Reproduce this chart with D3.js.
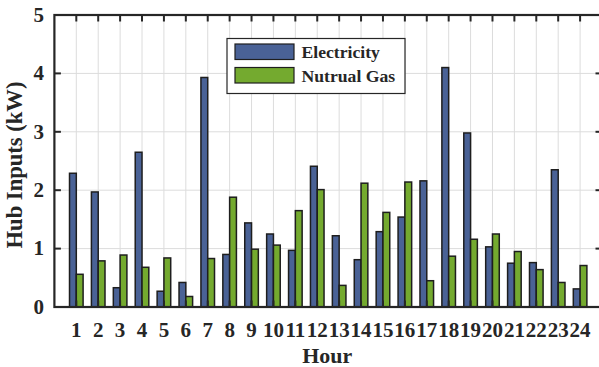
<!DOCTYPE html>
<html>
<head>
<meta charset="utf-8">
<script src="https://cdn.jsdelivr.net/npm/d3@7"></script>
<style>
  html, body { margin: 0; padding: 0; background: #fff; }
  svg { display: block; }
  text { font-family: "Liberation Serif", "Times New Roman", Times, serif; font-weight: bold; fill: #262626; }
</style>
</head>
<body>
<div id="chart"></div>
<script>
const hours = d3.range(1, 25);
const electricity = [2.29, 1.97, 0.33, 2.65, 0.27, 0.42, 3.93, 0.90, 1.44, 1.25, 0.97, 2.41,
                     1.22, 0.81, 1.29, 1.54, 2.16, 4.10, 2.98, 1.03, 0.75, 0.76, 2.35, 0.31];
const naturalGas = [0.56, 0.79, 0.89, 0.68, 0.84, 0.18, 0.83, 1.88, 0.99, 1.06, 1.65, 2.01,
                    0.37, 2.12, 1.62, 2.14, 0.45, 0.87, 1.16, 1.25, 0.95, 0.64, 0.42, 0.71];
const seriesNames = ["Electricity", "Nutrual Gas"];
const seriesColors = ["#4a6296", "#74aa2f"];
const yTicks = [0, 1, 2, 3, 4, 5];

const W = 599, H = 367;
const svg = d3.select("#chart").append("svg").attr("width", W).attr("height", H);

const x = d3.scaleLinear().domain([0, 25]).range([54.4, 602]);
const y = d3.scaleLinear().domain([0, 5]).range([307, 15]);
const bw = 0.31;

// fit a text element's font size so its advance width matches a target width
function fit(sel, size, target) {
  sel.attr("font-size", size);
  const w = sel.node().getComputedTextLength();
  if (w > 0) sel.attr("font-size", size * target / w);
  return sel;
}

// grid
const grid = svg.append("g").attr("stroke", "#dcdcdc").attr("stroke-width", 1);
grid.selectAll("line.v").data(hours).join("line")
  .attr("x1", d => x(d)).attr("x2", d => x(d)).attr("y1", y(5)).attr("y2", y(0));
grid.selectAll("line.h").data(yTicks).join("line")
  .attr("x1", x(0)).attr("x2", x(25)).attr("y1", d => y(d)).attr("y2", d => y(d));

// bars
const series = [electricity, naturalGas];
series.forEach((vals, si) => {
  svg.append("g").selectAll("rect").data(hours).join("rect")
    .attr("x", (d, i) => si === 0 ? x(d - bw) : x(d))
    .attr("width", x(bw) - x(0))
    .attr("y", (d, i) => y(vals[i]))
    .attr("height", (d, i) => y(0) - y(vals[i]))
    .attr("fill", seriesColors[si])
    .attr("stroke", "#1e1e1e")
    .attr("stroke-width", 1.5);
});

// axes
const axisColor = "#262626";
const ax = svg.append("g");
ax.append("rect").attr("x", x(0)).attr("y", y(5)).attr("width", x(25) - x(0)).attr("height", y(0) - y(5))
  .attr("fill", "none").attr("stroke", axisColor).attr("stroke-width", 2.2);
const tl = 6.5;
ax.selectAll("line.xt").data(hours).join("line")
  .attr("x1", d => x(d)).attr("x2", d => x(d)).attr("y1", y(5)).attr("y2", y(5) + tl)
  .attr("stroke", axisColor).attr("stroke-width", 2);
ax.selectAll("line.xb").data(hours).join("line")
  .attr("x1", d => x(d)).attr("x2", d => x(d)).attr("y1", y(0)).attr("y2", y(0) - tl)
  .attr("stroke", axisColor).attr("stroke-width", 2);
ax.selectAll("line.yl").data(yTicks).join("line")
  .attr("x1", x(0)).attr("x2", x(0) + tl).attr("y1", d => y(d)).attr("y2", d => y(d))
  .attr("stroke", axisColor).attr("stroke-width", 2);
ax.selectAll("line.yr").data(yTicks).join("line")
  .attr("x1", x(25)).attr("x2", x(25) - tl).attr("y1", d => y(d)).attr("y2", d => y(d))
  .attr("stroke", axisColor).attr("stroke-width", 2);

// determine tick font size from "10" width (~21px ink)
const probe = svg.append("text").text("10");
fit(probe, 20, 21.5);
const tickSize = Math.min(21, Math.max(18, +probe.attr("font-size")));
probe.remove();

// tick labels
svg.append("g").selectAll("text").data(hours).join("text")
  .attr("x", d => x(d)).attr("y", 336.5).attr("text-anchor", "middle")
  .attr("font-size", tickSize).text(d => d);
svg.append("g").selectAll("text").data(yTicks).join("text")
  .attr("x", 44).attr("y", d => y(d) + 6.8).attr("text-anchor", "end")
  .attr("font-size", tickSize).text(d => d);

// axis titles
fit(svg.append("text").attr("x", (x(0) + x(25)) / 2 - 1).attr("y", 363).attr("text-anchor", "middle")
  .text("Hour"), 21.5, 50);
fit(svg.append("text").attr("transform", `translate(22,165) rotate(-90)`)
  .attr("text-anchor", "middle").text("Hub Inputs (kW)"), 22.5, 167);

// legend
const lg = svg.append("g");
lg.append("rect").attr("x", 227).attr("y", 38.5).attr("width", 178).attr("height", 55)
  .attr("fill", "#fff").attr("stroke", axisColor).attr("stroke-width", 1.2);
let legendSize = 17.5;
seriesNames.forEach((name, i) => {
  const yy = 44 + i * 23.5;
  lg.append("rect").attr("x", 235).attr("y", yy).attr("width", 59).attr("height", 15.5)
    .attr("fill", seriesColors[i]).attr("stroke", "#1e1e1e").attr("stroke-width", 1.2);
  const t = lg.append("text").attr("x", 301.5).attr("y", yy + 14).text(name);
  if (i === 0) { fit(t, 17.5, 78.5); legendSize = +t.attr("font-size"); }
  else t.attr("font-size", legendSize);
});
</script>
</body>
</html>
